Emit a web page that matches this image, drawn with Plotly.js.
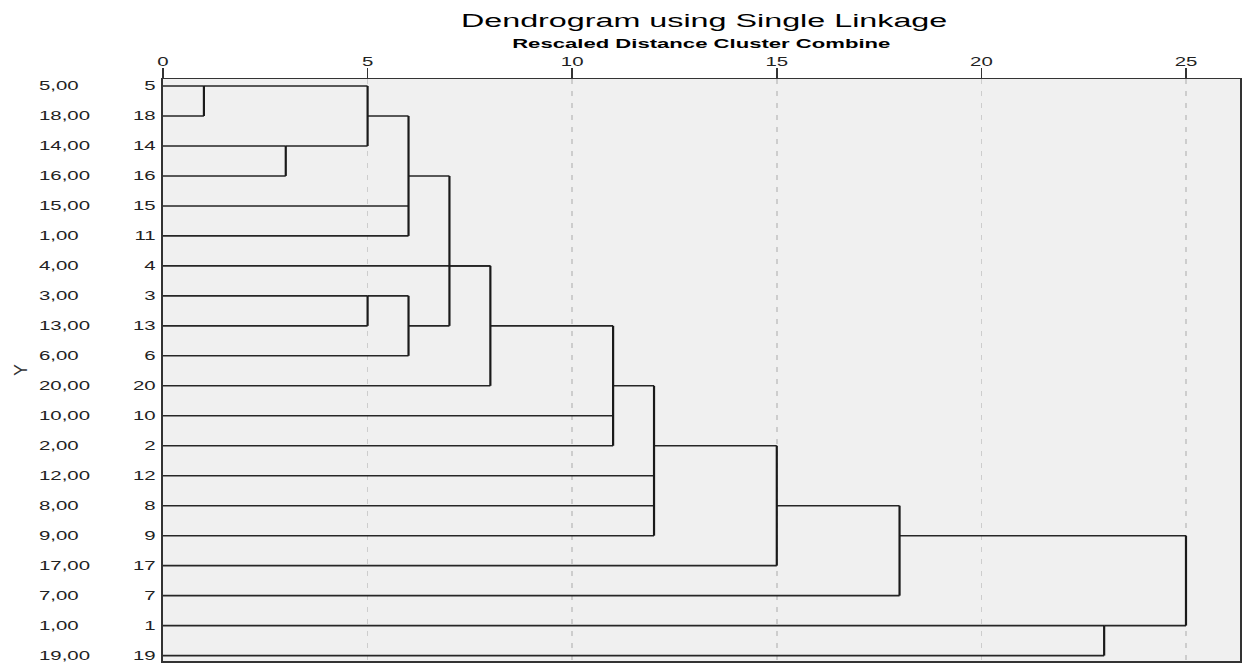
<!DOCTYPE html>
<html>
<head>
<meta charset="utf-8">
<script src="https://cdn.plot.ly/plotly-3.0.1.min.js"></script>
<style>
  html, body { margin: 0; padding: 0; background: #ffffff; }
  #chart { width: 1248px; height: 665px; }
</style>
</head>
<body>
<div id="chart"></div>
<script>
// ---------- data ----------
// leaf order (top to bottom): case numbers and the Y values shown beside them
const caseLabels = ['5','18','14','16','15','11','4','3','13','6','20','10','2','12','8','9','17','7','1','19'];
const yValueLabels = ['5,00','18,00','14,00','16,00','15,00','1,00','4,00','3,00','13,00','6,00','20,00','10,00','2,00','12,00','8,00','9,00','17,00','7,00','1,00','19,00'];

// agglomeration steps: rescaled distance at which the clusters combine
const mergeIds      = ['m1','m2','m3','m4','m5','m6','m7','m8','m9','m10','m11','m12','m13','m14'];
const mergeHeights  = [1, 3, 5, 5, 6, 6, 7, 8, 11, 12, 15, 18, 23, 25];
const mergeChildren = [
  ['5','18'], ['14','16'], ['m1','m2'], ['3','13'], ['m3','15','11'], ['m4','6'],
  ['m5','m6'], ['m7','4','20'], ['m8','10','2'], ['m9','12','8','9'], ['m10','17'],
  ['m11','7'], ['1','19'], ['m12','m13']
];
// leaf row on which each combined cluster continues to the right
const mergeNodeAt   = ['5','14','18','3','16','13','4','13','20','2','8','9','1', null];

const xTicks = [0, 5, 10, 15, 20, 25];

// ---------- build dendrogram segments ----------
const rowOf = {};
caseLabels.forEach((c, i) => { rowOf[c] = i; });
const nodeRow = {}, nodeHeight = {};
mergeIds.forEach((id, k) => {
  nodeHeight[id] = mergeHeights[k];
  nodeRow[id] = mergeNodeAt[k] === null ? null : rowOf[mergeNodeAt[k]];
});
function childPos(c) { return (c in rowOf) ? rowOf[c] : nodeRow[c]; }
function childStart(c) { return (c in rowOf) ? 0 : nodeHeight[c]; }

const hx = [], hy = [], vx = [], vy = [];
mergeIds.forEach((id, k) => {
  const h = mergeHeights[k];
  const ps = mergeChildren[k].map(childPos);
  mergeChildren[k].forEach((c, j) => {
    hx.push(childStart(c), h, null);
    hy.push(ps[j], ps[j], null);
  });
  vx.push(h, h, null);
  vy.push(Math.min(...ps), Math.max(...ps), null);
});

const traces = [
  { type: 'scatter', mode: 'lines', x: hx, y: hy, hoverinfo: 'skip',
    line: { color: '#262626', width: 1.6 }, showlegend: false, cliponaxis: false },
  { type: 'scatter', mode: 'lines', x: vx, y: vy, hoverinfo: 'skip',
    line: { color: '#1a1a1a', width: 2.2 }, showlegend: false, cliponaxis: false }
];

// ---------- layout ----------
const FONT = 'Arial, "Liberation Sans", sans-serif';
const L = 163, R = 1240, T = 79, B = 661;
const pxToPaperX = px => (px - L) / (R - L);
const pxToPaperY = py => (B - py) / (B - T);

const annotations = yValueLabels.map((t, i) => ({
  text: t, xref: 'paper', yref: 'y', x: pxToPaperX(37), y: i,
  xanchor: 'left', yanchor: 'middle', showarrow: false, align: 'left',
  font: { family: FONT, size: 12, color: '#222' }
}));
annotations.push({
  text: 'Dendrogram using Single Linkage', xref: 'paper', yref: 'paper',
  x: pxToPaperX(704), y: pxToPaperY(21), xanchor: 'center', yanchor: 'middle',
  showarrow: false, font: { family: FONT, size: 19, color: '#000' }
});
annotations.push({
  text: '<b>Rescaled Distance Cluster Combine</b>', xref: 'paper', yref: 'paper',
  x: pxToPaperX(701), y: pxToPaperY(44), xanchor: 'center', yanchor: 'middle',
  showarrow: false, font: { family: FONT, size: 13, color: '#000' }
});
annotations.push({
  text: 'Y', xref: 'paper', yref: 'paper', x: pxToPaperX(21), y: pxToPaperY(370),
  xanchor: 'center', yanchor: 'middle', textangle: -90, showarrow: false,
  font: { family: FONT, size: 18, color: '#333' }
});

const layout = {
  width: 1248, height: 665,
  margin: { l: L, r: 1248 - R, t: T, b: 665 - B, pad: 0 },
  paper_bgcolor: '#ffffff', plot_bgcolor: '#f0f0f0',
  showlegend: false,
  xaxis: {
    side: 'top', range: [0, 26.32], tickvals: xTicks, ticktext: xTicks.map(String),
    ticks: 'outside', ticklen: 10, tickwidth: 1.5, tickcolor: '#333',
    ticklabelstandoff: -3,
    showgrid: true, gridcolor: '#cdcdcd', gridwidth: 1.5, griddash: '5px,7px',
    zeroline: false, showline: true, linecolor: '#333', linewidth: 1.5, mirror: true,
    tickfont: { family: FONT, size: 12, color: '#222' }, fixedrange: true
  },
  yaxis: {
    range: [19.18, -0.234], tickvals: caseLabels.map((c, i) => i), ticktext: caseLabels,
    ticks: '', showgrid: false, zeroline: false, showline: true, linecolor: '#333',
    linewidth: 2, mirror: true, ticklabelstandoff: 3,
    tickfont: { family: FONT, size: 12, color: '#222' }, fixedrange: true
  },
  annotations: annotations
};

// The reference's lettering is horizontally widened; widen each text about its anchor.
function widenText(gd) {
  const S = 1.7;
  gd.querySelectorAll('svg text').forEach(el => {
    if (el.textContent === 'Y') return;
    const x = parseFloat(el.getAttribute('x')) || 0;
    const y = parseFloat(el.getAttribute('y')) || 0;
    const t = el.getAttribute('transform') || '';
    el.setAttribute('transform', t + ' translate(' + x + ',' + y + ') scale(' + S + ',1) translate(' + (-x) + ',' + (-y) + ')');
  });
}

Plotly.newPlot('chart', traces, layout, { displayModeBar: false, staticPlot: true })
  .then(gd => widenText(gd));
</script>
</body>
</html>
